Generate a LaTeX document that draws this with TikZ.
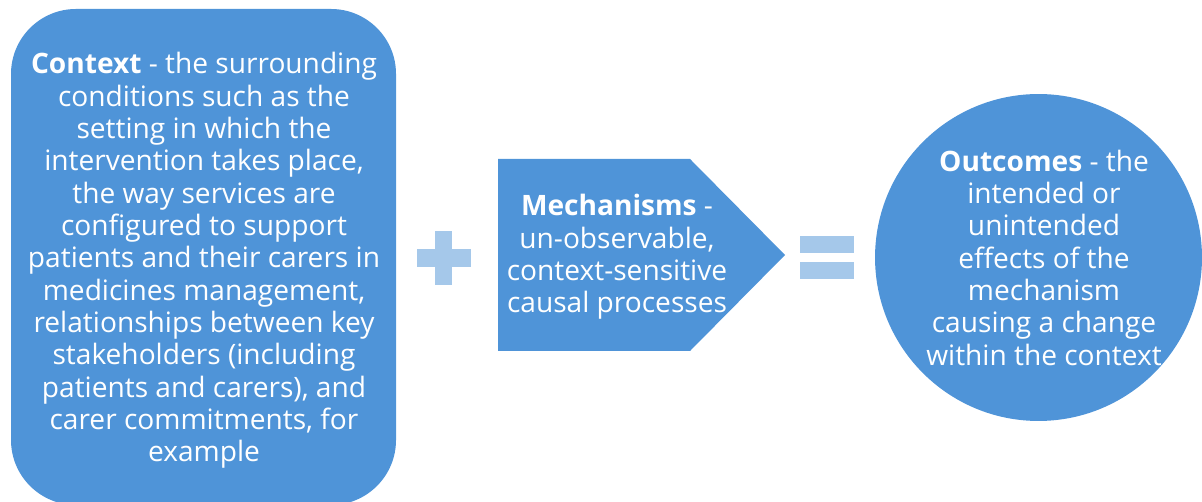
\documentclass[tikz,border=0pt]{standalone}
\usepackage{fontspec}
\setmainfont{Open Sans}
\usetikzlibrary{positioning}
\definecolor{boxblue}{RGB}{79,148,216}
\definecolor{signblue}{RGB}{165,200,234}

\begin{document}
\begin{tikzpicture}[x=0.02cm,y=-0.02cm,
    txt/.style={text=white, align=center, inner sep=0pt,
      font=\fontsize{16}{18.4}\selectfont}]
        \useasboundingbox (0,0) rectangle (1202,502);
        % context
        \fill[boxblue, rounded corners=1.3cm] (11,9) rectangle (396,505);
        \node[txt] (ctx) at (204,260.5) {\textbf{Context} - the surrounding\\
            conditions such as the\\ setting in which the\\
            intervention takes place,\\ the way services are\\
            configured to support\\ patients and their carers in\\
            medicines management,\\ relationships between key\\
            stakeholders (including\\ patients and carers), and\\
            carer commitments, for\\ example};
        % plus
        \fill[signblue] (417,249) rectangle (471,267);
        \fill[signblue] (435,231) rectangle (452,285);
        % mechanisms
        \fill[boxblue] (498,159) -- (690,159) -- (785,255) -- (690,351) -- (498,351) -- cycle;
        \node[txt] (mech) at (617,257) {\textbf{Mechanisms} -\\ un-observable,\\
            context-sensitive\\ causal processes};
        % equals
        \foreach \y in {236,262}{
            \fill[signblue] (800,\y) rectangle (854,\y+17);
        }
        % outcomes
        \fill[boxblue] (1038.5,257.5) circle (3.27cm);
        \node[txt] (outc) at (1044,257.5) {\textbf{Outcomes} - the\\ intended or\\
            unintended\\ effects of the\\ mechanism\\
            causing a change\\ within the context};
    \end{tikzpicture}
\end{document}
